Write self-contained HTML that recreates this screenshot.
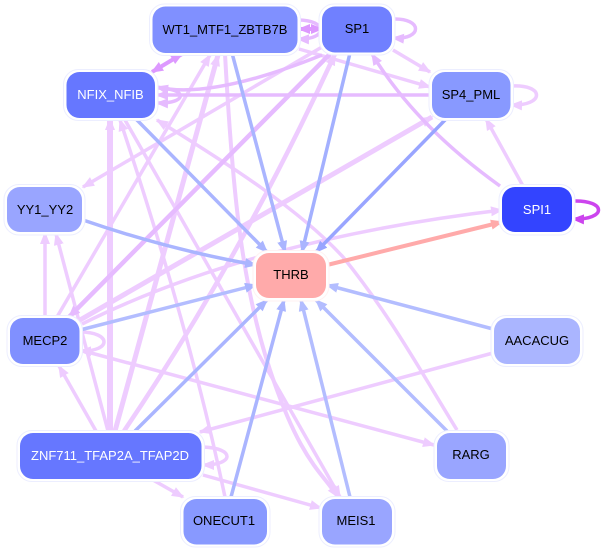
<!DOCTYPE html>
<html><head><meta charset="utf-8"><style>
html,body{margin:0;padding:0;background:#fff;width:603px;height:551px;overflow:hidden}
svg{display:block}
text{font-family:"Liberation Sans",sans-serif;font-size:13px;text-anchor:middle}
.n{stroke:none}
.o{fill:#fff;stroke:#eceeff;stroke-width:1}
</style></head><body>
<svg width="603" height="551" viewBox="0 0 603 551" xmlns="http://www.w3.org/2000/svg">
<defs>
<marker id="mp" markerUnits="userSpaceOnUse" markerWidth="14" markerHeight="11" refX="11" refY="5" orient="auto"><path d="M0,0L12.500,5L0,10z" fill="#eeccff"/></marker>
<marker id="mm" markerUnits="userSpaceOnUse" markerWidth="14" markerHeight="11" refX="11" refY="5" orient="auto"><path d="M0,0L12.500,5L0,10z" fill="#e6bbff"/></marker>
<marker id="md" markerUnits="userSpaceOnUse" markerWidth="14" markerHeight="11" refX="11" refY="5" orient="auto"><path d="M0,0L12.500,5L0,10z" fill="#dd99ff"/></marker>
<marker id="mds" markerUnits="userSpaceOnUse" markerWidth="14" markerHeight="11" refX="1.500" refY="5" orient="auto"><path d="M12.500,0L0,5L12.500,10z" fill="#dd99ff"/></marker>
<marker id="mb" markerUnits="userSpaceOnUse" markerWidth="14" markerHeight="11" refX="11" refY="5" orient="auto"><path d="M0,0L12.500,5L0,10z" fill="#aab5ff"/></marker>
<marker id="mb2" markerUnits="userSpaceOnUse" markerWidth="14" markerHeight="11" refX="11" refY="5" orient="auto"><path d="M0,0L12.500,5L0,10z" fill="#b3bdff"/></marker>
<marker id="mb3" markerUnits="userSpaceOnUse" markerWidth="14" markerHeight="11" refX="11" refY="5" orient="auto"><path d="M0,0L12.500,5L0,10z" fill="#99a5ff"/></marker>
<marker id="mr" markerUnits="userSpaceOnUse" markerWidth="14" markerHeight="11" refX="11" refY="5" orient="auto"><path d="M0,0L12.500,5L0,10z" fill="#ffaaaa"/></marker>
<marker id="ms" markerUnits="userSpaceOnUse" markerWidth="14" markerHeight="11" refX="11" refY="5" orient="auto"><path d="M0,0L12.500,5L0,10z" fill="#cc44ee"/></marker>
</defs>
<g fill="none" stroke="#eeccff" stroke-width="3.500" marker-end="url(#mp)">
<path d="M96,431L59,366"/>
<path d="M108,431L56,234"/>
<path stroke-width="6" d="M110,431L110,119"/>
<path stroke-width="5" d="M115,431L218,55"/>
<path stroke-width="4.500" d="M124,431Q240,260 335,54"/>
<path d="M45,317L45,233"/>
<path d="M57,317L210,55"/>
<path stroke-width="5" d="M80,320L432,117"/>
<path d="M82,324Q250,240 502,210"/>
<path d="M80,350L434,445"/>
<path d="M203,475L321,508"/>
<path d="M153,480L183,497"/>
<path d="M493,353L200,432"/>
<path d="M225,497Q190,330 120,120"/>
<path d="M457,430C420,370 390,315 343,257C300,210 230,165 157,120"/>
<path d="M125,120L340,497"/>
<path stroke-width="4" d="M225,54C232,180 240,280 270,370S320,470 338,497"/>
<path d="M322,47L83,187"/>
<path d="M299,49L430,87"/>
<path d="M393,50L430,72"/>
<path d="M523,186L486,119"/>
<path d="M511,86C545,84 545,106 511,105"/>
<path d="M80,332C112,332 112,352 80,351"/>
<path d="M203,447C235,448 235,465 203,465"/>
</g>
<g fill="none" stroke="#e6bbff" stroke-width="3.500" marker-end="url(#mm)">
<path stroke-width="4.500" d="M330,54L69,317"/>
<path d="M500,186Q415,125 372,54"/>
<path d="M431,95L157,95"/>
<path d="M322,55Q210,100 157,87"/>
<path d="M157,88C188,88 188,104 157,103"/>
<path d="M393,19C423,18 423,40 393,38"/>
<path d="M298,20C328,20 328,40 298,39"/>
</g>
<g fill="none" stroke="#dd99ff" stroke-width="4" marker-end="url(#md)" marker-start="url(#mds)">
<path d="M182,54L152,72"/>
<path d="M299,29L322,29"/>
</g>
<g fill="none" stroke="#aab5ff" stroke-width="3.500" marker-end="url(#mb)">
<path d="M232,53L285,252"/>
<path d="M135,118L267,252"/>
<path d="M83,220Q170,250 256,265"/>
<path d="M350,53L302,252" stroke="#a3b0ff"/>
<path d="M231,497L284,300"/>
<path d="M80,330L256,285" stroke="#b3bdff"/>
<path d="M135,431L267,300"/>
</g>
<g fill="none" stroke="#b3bdff" stroke-width="3.500" marker-end="url(#mb2)">
<path d="M350,497L301,300"/>
<path d="M447,431L316,300"/>
<path d="M493,329L327,285"/>
</g>
<path fill="none" stroke="#99a5ff" stroke-width="3.500" marker-end="url(#mb3)" d="M446,119L316,252"/>
<path fill="none" stroke="#ffaaaa" stroke-width="4" marker-end="url(#mr)" d="M327,265L502,222"/>
<path fill="none" stroke="#cc44ee" stroke-width="3.500" marker-end="url(#ms)" d="M573,201C607,200 607,220 573,219"/>

<rect class="o" x="149.500" y="4" width="151" height="51.500" rx="15"/><rect class="n" x="152.500" y="6.500" width="145" height="46.500" rx="13" fill="#8090ff"/>
<rect class="o" x="63.500" y="69.500" width="94.500" height="51" rx="15"/><rect class="n" x="66.500" y="72" width="88.500" height="46" rx="13" fill="#6677ff"/>
<rect class="o" x="319" y="4" width="76" height="51" rx="15"/><rect class="n" x="322" y="6.500" width="70" height="46" rx="13" fill="#7080ff"/>
<rect class="o" x="429" y="69.500" width="84.500" height="51" rx="15"/><rect class="n" x="432" y="72" width="78.500" height="46" rx="13" fill="#8899ff"/>
<rect class="o" x="499" y="184.500" width="76" height="50.500" rx="15"/><rect class="n" x="502" y="187" width="70" height="45" rx="13" fill="#3344ff"/>
<rect class="o" x="4" y="184.500" width="81" height="50.500" rx="15"/><rect class="n" x="7" y="187" width="75" height="45" rx="13" fill="#99a5ff"/>
<rect class="o" x="253" y="250.500" width="76" height="50.500" rx="15" style="stroke:#fff2f2"/><rect class="n" x="256" y="253" width="70" height="45" rx="13" fill="#ffaaaa"/>
<rect class="o" x="7" y="315.500" width="75.500" height="51" rx="15"/><rect class="n" x="10" y="318" width="69.500" height="46" rx="13" fill="#8090ff"/>
<rect class="o" x="17" y="430.500" width="187.500" height="51" rx="15"/><rect class="n" x="20" y="433" width="181.500" height="46" rx="13" fill="#6677ff"/>
<rect class="o" x="180.500" y="496.500" width="89.500" height="50.500" rx="15"/><rect class="n" x="183.500" y="499" width="83.500" height="45.500" rx="13" fill="#8899ff"/>
<rect class="o" x="319" y="496.500" width="76" height="50.500" rx="15"/><rect class="n" x="322" y="499" width="70" height="45.500" rx="13" fill="#99a5ff"/>
<rect class="o" x="434" y="430.500" width="75" height="51" rx="15"/><rect class="n" x="437" y="433" width="69" height="46" rx="13" fill="#99a5ff"/>
<rect class="o" x="491" y="315.500" width="92" height="51" rx="15"/><rect class="n" x="494" y="318" width="86" height="46" rx="13" fill="#aab5ff"/>

<text x="225" y="34">WT1_MTF1_ZBTB7B</text>
<text x="110.500" y="99" fill="#fff">NFIX_NFIB</text>
<text x="357" y="33">SP1</text>
<text x="471" y="99">SP4_PML</text>
<text x="537" y="214" fill="#fff">SPI1</text>
<text x="45" y="214">YY1_YY2</text>
<text x="291" y="279">THRB</text>
<text x="45" y="345">MECP2</text>
<text x="110" y="460" fill="#fff">ZNF711_TFAP2A_TFAP2D</text>
<text x="224" y="525">ONECUT1</text>
<text x="356" y="525">MEIS1</text>
<text x="471" y="459">RARG</text>
<text x="537" y="345">AACACUG</text>
</svg>
</body></html>
